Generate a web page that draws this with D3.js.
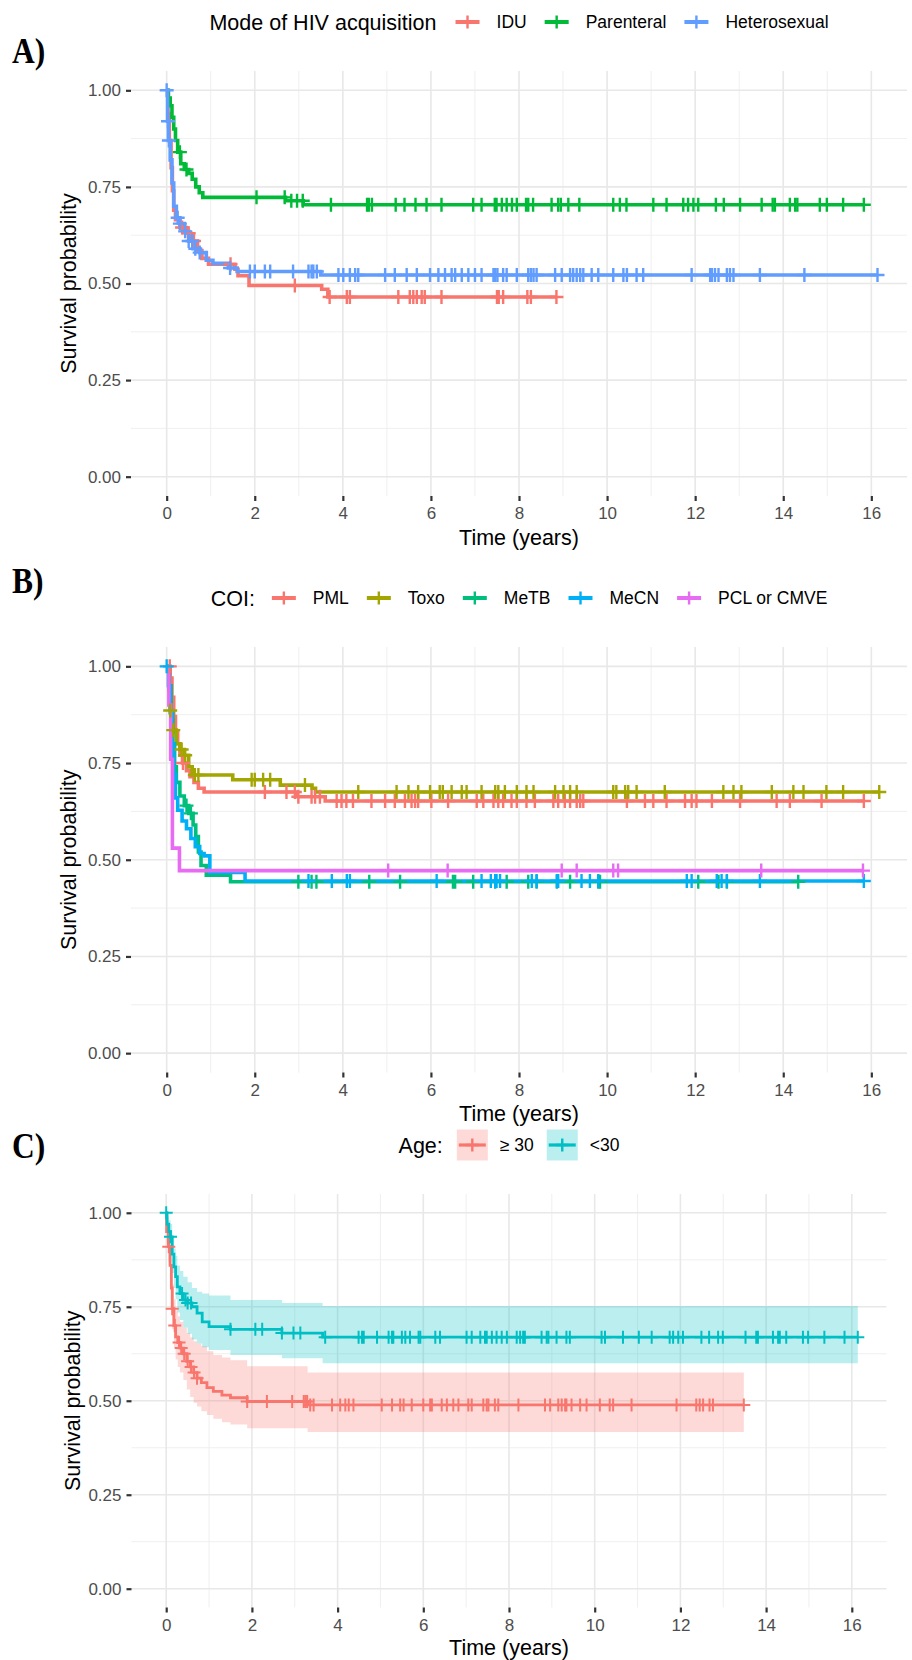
<!DOCTYPE html>
<html>
<head>
<meta charset="utf-8">
<script src="https://cdn.jsdelivr.net/npm/d3@7"></script>
<style>
  body { margin: 0; background: #fff; }
  text { font-family: "Liberation Sans", Arial, sans-serif; }
  text.letter { font-family: "Liberation Serif", "Times New Roman", serif; font-weight: bold; }
</style>
</head>
<body>
<script>
// ---------- Panel A: mode of HIV acquisition ----------
var groupsA = ["IDU", "Parenteral", "Heterosexual"];
var colorsA = ["#F8766D", "#00BA38", "#619CFF"];

var iduTime = [0, 0.03, 0.06, 0.1, 0.13, 0.16, 0.2, 0.3, 0.45, 0.55, 0.7, 0.8, 0.95, 1.55, 1.62, 1.87, 3.52, 3.66];
var iduSurv = [1, 0.94, 0.87, 0.80, 0.74, 0.69, 0.665, 0.645, 0.63, 0.61, 0.585, 0.565, 0.55, 0.537, 0.52, 0.495, 0.485, 0.465];
var iduCensor = [0.35, 0.5, 0.62, 1.45, 2.91, 3.7, 4.09, 4.16, 5.26, 5.52, 5.6, 5.68, 5.79, 5.86, 6.24, 7.5, 7.54, 7.64, 8.19, 8.27, 8.85];

var parTime = [0, 0.04, 0.08, 0.12, 0.16, 0.2, 0.25, 0.32, 0.4, 0.5, 0.58, 0.66, 0.74, 0.82, 2.7, 3.1];
var parSurv = [1, 0.98, 0.96, 0.93, 0.9, 0.87, 0.84, 0.81, 0.795, 0.785, 0.77, 0.75, 0.735, 0.723, 0.714, 0.704];
var parCensor = [0.3, 0.45, 2.04, 2.68, 2.83, 2.96, 3.09, 3.73, 4.55, 4.59, 4.66, 5.2, 5.4, 5.65, 5.9, 6.24, 6.96, 7.15, 7.45, 7.49,
  7.61, 7.72, 7.84, 7.95, 8.16, 8.21, 8.32, 8.74, 8.89, 8.95, 9.12, 9.37, 10.14, 10.29, 10.44, 11.05, 11.35, 11.73, 11.84, 11.96,
  12.07, 12.47, 12.65, 13.02, 13.51, 13.76, 13.81, 14.15, 14.27, 14.32, 14.83, 14.99, 15.36, 15.83];

var hetTime = [0, 0.02, 0.04, 0.08, 0.12, 0.16, 0.22, 0.3, 0.4, 0.5, 0.6, 0.75, 0.9, 1.05, 1.4, 1.6, 3.5];
var hetSurv = [1, 0.92, 0.87, 0.82, 0.76, 0.70, 0.67, 0.655, 0.635, 0.61, 0.59, 0.58, 0.56, 0.552, 0.54, 0.531, 0.522];
var hetCensor = [0, 0.03, 0.05, 0.25, 0.3, 0.42, 0.5, 0.58, 0.65, 0.75, 1.44, 1.89, 2.0, 2.23, 2.35, 2.87, 3.22, 3.29, 3.33, 3.41,
  3.9, 4.01, 4.16, 4.28, 4.35, 4.96, 5.18, 5.45, 5.68, 5.98, 6.17, 6.32, 6.47, 6.55, 6.7, 6.85, 7.0, 7.15, 7.42, 7.46, 7.51, 7.64,
  7.72, 7.95, 8.21, 8.27, 8.33, 8.4, 8.82, 8.97, 9.16, 9.23, 9.31, 9.39, 9.46, 9.65, 9.8, 10.14, 10.37, 10.45, 10.67, 10.82, 11.92,
  12.34, 12.38, 12.45, 12.53, 12.72, 12.79, 12.87, 13.47, 14.48, 16.14];

// ---------- Panel B: COI ----------
var groupsB = ["PML", "Toxo", "MeTB", "MeCN", "PCL or CMVE"];
var colorsB = ["#F8766D", "#A3A500", "#00BF7D", "#00B0F6", "#E76BF3"];

var pmlTime = [0, 0.08, 0.12, 0.16, 0.2, 0.25, 0.3, 0.36, 0.45, 0.53, 0.62, 0.72, 0.85, 2.95, 3.6];
var pmlSurv = [1, 0.97, 0.92, 0.87, 0.83, 0.8, 0.77, 0.75, 0.73, 0.715, 0.7, 0.685, 0.675, 0.663, 0.652];
var pmlCensor = [0.07, 0.37, 2.23, 2.72, 2.91, 2.99, 3.29, 3.37, 3.48, 3.86, 3.97, 4.08, 4.23, 4.65, 4.96, 5.18, 5.41, 5.56, 5.64,
  5.71, 6.01, 6.39, 7.04, 7.19, 7.42, 7.53, 7.64, 7.83, 7.95, 8.17, 8.36, 8.78, 8.89, 9.04, 9.16, 9.31, 9.39, 9.46, 10.45, 10.86,
  11.05, 11.35, 11.77, 11.92, 12.03, 12.38, 13.02, 13.85, 14.15, 14.87, 15.83];

var toxoTime = [0, 0.05, 0.08, 0.12, 0.15, 0.22, 0.3, 0.4, 0.5, 0.58, 1.5, 2.58, 3.3, 3.38];
var toxoSurv = [1, 0.94, 0.886, 0.86, 0.835, 0.8, 0.785, 0.77, 0.74, 0.719, 0.707, 0.693, 0.685, 0.675];
var toxoCensor = [0.08, 0.15, 0.34, 0.42, 0.64, 0.72, 1.93, 2.0, 2.19, 2.35, 3.14, 4.35, 5.22, 5.49, 5.71, 5.98, 6.2, 6.27, 6.47,
  6.7, 6.81, 7.15, 7.46, 7.53, 7.68, 7.95, 8.17, 8.33, 8.82, 9.01, 9.16, 9.31, 10.14, 10.21, 10.41, 10.48, 10.67, 11.31, 12.64,
  12.87, 13.05, 13.74, 14.23, 14.46, 14.98, 15.36, 16.18];

var metbTime = [0, 0.06, 0.1, 0.14, 0.18, 0.22, 0.3, 0.4, 0.5, 0.6, 0.66, 0.72, 0.78, 0.9, 1.45];
var metbSurv = [1, 0.95, 0.88, 0.8, 0.74, 0.7, 0.665, 0.64, 0.62, 0.59, 0.56, 0.52, 0.485, 0.46, 0.443];
var metbCensor = [0.45, 0.55, 2.99, 3.29, 3.4, 4.6, 5.3, 6.5, 6.55, 6.96, 7.46, 7.72, 8.21, 8.4, 8.86, 9.16, 9.8, 9.84, 12.07,
  12.53, 12.72, 14.34];

var mecnTime = [0, 0.04, 0.08, 0.12, 0.16, 0.2, 0.25, 0.35, 0.45, 0.55, 0.65, 0.75, 0.85, 0.98, 1.78];
var mecnSurv = [1, 0.95, 0.88, 0.8, 0.72, 0.66, 0.628, 0.6, 0.58, 0.555, 0.534, 0.516, 0.51, 0.467, 0.445];
var mecnCensor = [0, 3.22, 3.75, 4.09, 4.16, 6.13, 7.15, 7.36, 7.46, 7.49, 7.57, 8.29, 8.4, 8.86, 8.89, 9.42, 9.61, 9.8, 11.81,
  11.92, 12.49, 12.6, 12.72, 13.47, 15.83];

var pclTime = [0, 0.05, 0.09, 0.13, 0.29];
var pclSurv = [1, 0.9, 0.76, 0.53, 0.472];
var pclCensor = [5.03, 6.38, 8.97, 9.31, 10.14, 10.25, 13.5, 15.81];

// ---------- Panel C: age ----------
var groupsC = ["\u2265 30", "<30"];
var colorsC = ["#F8766D", "#00BFC4"];

var oldTime  = [0, 0.01, 0.05, 0.09, 0.12, 0.14, 0.18, 0.22, 0.27, 0.32, 0.4, 0.48, 0.56, 0.64, 0.72, 0.82, 0.95, 1.1, 1.3, 1.5, 1.89, 3.3];
var oldSurv  = [1, 0.95, 0.91, 0.86, 0.8, 0.745, 0.7, 0.67, 0.655, 0.64, 0.625, 0.605, 0.59, 0.575, 0.56, 0.548, 0.535, 0.525, 0.515, 0.508, 0.498, 0.489];
var oldLower = [1, 0.92, 0.87, 0.81, 0.75, 0.69, 0.64, 0.61, 0.59, 0.575, 0.555, 0.53, 0.51, 0.495, 0.485, 0.472, 0.462, 0.452, 0.443, 0.437, 0.427, 0.417];
var oldUpper = [1, 0.98, 0.95, 0.91, 0.86, 0.81, 0.77, 0.74, 0.725, 0.71, 0.695, 0.68, 0.668, 0.658, 0.652, 0.645, 0.632, 0.622, 0.615, 0.608, 0.592, 0.575];
var oldCensor = [0.06, 0.14, 0.2, 0.3, 0.35, 0.42, 0.5, 0.58, 0.65, 0.72, 1.89, 2.35, 2.94, 3.21, 3.25, 3.29, 3.36, 3.44, 3.87, 4.06,
  4.18, 4.26, 4.37, 5.03, 5.27, 5.46, 5.54, 5.73, 6.0, 6.16, 6.2, 6.43, 6.55, 6.7, 6.82, 7.05, 7.13, 7.4, 7.48, 7.52, 7.67, 7.75,
  8.22, 8.84, 8.96, 9.15, 9.23, 9.31, 9.34, 9.46, 9.66, 9.81, 10.12, 10.35, 10.43, 10.86, 11.91, 12.37, 12.45, 12.53, 12.68,
  12.76, 13.48];

var youngTime  = [0, 0.02, 0.06, 0.1, 0.14, 0.18, 0.22, 0.26, 0.32, 0.4, 0.5, 0.6, 0.72, 0.84, 1.0, 1.5, 2.7, 3.65];
var youngSurv  = [1, 0.97, 0.95, 0.936, 0.89, 0.856, 0.83, 0.803, 0.785, 0.768, 0.76, 0.75, 0.733, 0.71, 0.697, 0.69, 0.68, 0.669];
var youngLower = [1, 0.94, 0.91, 0.89, 0.84, 0.8, 0.77, 0.735, 0.715, 0.695, 0.678, 0.663, 0.652, 0.642, 0.635, 0.622, 0.613, 0.6];
var youngUpper = [1, 0.99, 0.98, 0.97, 0.935, 0.905, 0.885, 0.86, 0.845, 0.83, 0.815, 0.8, 0.79, 0.785, 0.78, 0.768, 0.76, 0.752];
var youngCensor = [0, 0.1, 0.37, 0.45, 0.5, 0.58, 1.5, 2.08, 2.24, 2.7, 2.97, 3.13, 3.71, 4.49, 4.57, 4.61, 4.92, 5.19, 5.27, 5.3,
  5.5, 5.58, 5.69, 5.89, 5.93, 6.28, 6.39, 7.01, 7.13, 7.33, 7.44, 7.48, 7.6, 7.71, 7.83, 7.95, 8.18, 8.26, 8.33, 8.37, 8.76,
  8.88, 8.92, 9.11, 9.34, 9.42, 10.16, 10.24, 10.66, 11.03, 11.33, 11.75, 11.83, 11.95, 12.06, 12.49, 12.67, 12.88, 12.99,
  13.52, 13.77, 13.81, 14.16, 14.28, 14.32, 14.47, 14.86, 14.98, 15.36, 15.83, 16.14];

// ---------- axes ----------
var xTicks = [0, 2, 4, 6, 8, 10, 12, 14, 16];
var xMinor = [1, 3, 5, 7, 9, 11, 13, 15];
var yTicks = [0, 0.25, 0.5, 0.75, 1];
var yMinor = [0.125, 0.375, 0.625, 0.875];

var W = 912, H = 1660;
var svg = d3.select("body").append("svg")
  .attr("width", W).attr("height", H)
  .style("display", "block");
svg.append("rect").attr("width", W).attr("height", H).attr("fill", "#fff");

function series(name, color, t, s, cens, lo, hi) {
  var end = d3.max(cens.concat(t));
  return { name: name, color: color, t: t, s: s, cens: cens, lo: lo, hi: hi, end: end };
}

function stepAt(ts, vals, t) {
  var i = d3.bisectRight(ts, t) - 1;
  return vals[Math.max(i, 0)];
}

function plusPath(cx, cy, r) {
  return "M" + (cx - r) + "," + cy + "h" + (2 * r) + "M" + cx + "," + (cy - r) + "v" + (2 * r);
}

function drawPanel(p) {
  var x = d3.scaleLinear().domain([-0.81, 16.81]).range([p.left, p.right]);
  var y = d3.scaleLinear().domain([-0.05, 1.05]).range([p.bottom, p.top]);
  var g = svg.append("g");

  // grid
  g.selectAll(".vminor").data(xMinor).join("line")
    .attr("x1", d => x(d)).attr("x2", d => x(d)).attr("y1", p.top).attr("y2", p.bottom)
    .attr("stroke", "#ededed").attr("stroke-width", 0.9);
  g.selectAll(".hminor").data(yMinor).join("line")
    .attr("x1", p.left).attr("x2", p.right).attr("y1", d => y(d)).attr("y2", d => y(d))
    .attr("stroke", "#ededed").attr("stroke-width", 0.9);
  g.selectAll(".vmajor").data(xTicks).join("line")
    .attr("x1", d => x(d)).attr("x2", d => x(d)).attr("y1", p.top).attr("y2", p.bottom)
    .attr("stroke", "#e8e8e8").attr("stroke-width", 1.6);
  g.selectAll(".hmajor").data(yTicks).join("line")
    .attr("x1", p.left).attr("x2", p.right).attr("y1", d => y(d)).attr("y2", d => y(d))
    .attr("stroke", "#e8e8e8").attr("stroke-width", 1.6);

  // axes
  var ax = g.append("g").attr("transform", "translate(0," + p.bottom + ")")
    .call(d3.axisBottom(x).tickValues(xTicks).tickSize(5).tickPadding(6));
  var ay = g.append("g").attr("transform", "translate(" + p.left + ",0)")
    .call(d3.axisLeft(y).tickValues(yTicks).tickFormat(d3.format(".2f")).tickSize(5).tickPadding(5));
  [ax, ay].forEach(function (a) {
    a.select(".domain").remove();
    a.selectAll(".tick line").attr("stroke", "#333").attr("stroke-width", 2.2);
    a.selectAll(".tick text").attr("fill", "#4d4d4d").attr("font-size", 17);
  });

  g.append("text").attr("x", (p.left + p.right) / 2).attr("y", p.xTitleY).attr("dy", "0.35em")
    .attr("text-anchor", "middle").attr("font-size", 21.5).text("Time (years)");
  g.append("text").attr("transform", "translate(" + p.yTitleX + "," + (p.top + p.bottom) / 2 + ") rotate(-90)")
    .attr("dy", "0.35em").attr("text-anchor", "middle").attr("font-size", 21.5).text("Survival probability");

  // confidence bands
  if (p.band) {
    p.series.forEach(function (d) {
      var pts = d.t.map((t, i) => ({ t: t, lo: d.lo[i], hi: d.hi[i] }));
      pts.push({ t: d.end, lo: d.lo[d.lo.length - 1], hi: d.hi[d.hi.length - 1] });
      g.append("path").datum(pts)
        .attr("d", d3.area().curve(d3.curveStepAfter).x(q => x(q.t)).y0(q => y(q.lo)).y1(q => y(q.hi)))
        .attr("fill", d.color).attr("fill-opacity", 0.27);
    });
  }

  // survival step lines
  var line = d3.line().curve(d3.curveStepAfter).x(q => x(q[0])).y(q => y(q[1]));
  p.series.forEach(function (d) {
    var pts = d.t.map((t, i) => [t, d.s[i]]);
    pts.push([d.end, d.s[d.s.length - 1]]);
    g.append("path").datum(pts).attr("d", line)
      .attr("fill", "none").attr("stroke", d.color).attr("stroke-width", p.lineW);
  });

  // censoring marks
  p.series.forEach(function (d) {
    g.append("g").selectAll("path").data(d.cens).join("path")
      .attr("d", c => plusPath(x(c), y(stepAt(d.t, d.s, c)), p.plusR))
      .attr("fill", "none").attr("stroke", d.color).attr("stroke-width", p.plusW);
  });

  // panel letter
  svg.append("text").attr("class", "letter")
    .attr("transform", "translate(12," + p.letterY + ") scale(0.9,1)")
    .attr("font-size", 35).text(p.letter);

  // legend
  var lg = svg.append("g");
  var title = lg.append("text").attr("x", 0).attr("y", p.legendY).attr("dy", "0.35em")
    .attr("font-size", 21.5).text(p.legendTitle);
  var cx = title.node().getComputedTextLength();
  p.series.forEach(function (d, i) {
    cx += (i === 0) ? p.gapTitle : p.gapItem;
    var kw = p.band ? 31 : 28;
    if (p.band) {
      lg.append("rect").attr("x", cx).attr("y", p.legendY - 15.5).attr("width", kw).attr("height", 31)
        .attr("fill", d.color).attr("fill-opacity", 0.27);
    }
    lg.append("line").attr("x1", cx + 2).attr("x2", cx + kw - 2).attr("y1", p.legendY).attr("y2", p.legendY)
      .attr("stroke", d.color).attr("stroke-width", p.band ? 3.2 : 4);
    lg.append("path").attr("d", plusPath(cx + kw / 2, p.legendY, 6.5))
      .attr("stroke", d.color).attr("stroke-width", 2.4).attr("fill", "none");
    cx += kw + p.gapKey;
    var t = lg.append("text").attr("x", cx).attr("y", p.legendY).attr("dy", "0.35em")
      .attr("font-size", 17.5).text(d.name);
    cx += t.node().getComputedTextLength();
  });
  var mid = (p.left + p.right) / 2;
  lg.attr("transform", "translate(" + (mid - cx / 2) + ",0)");
}

drawPanel({
  left: 131, right: 907, top: 71, bottom: 496,
  xTitleY: 537, yTitleX: 68, letter: "A)", letterY: 63,
  legendY: 22, legendTitle: "Mode of HIV acquisition", gapTitle: 17, gapItem: 16, gapKey: 15,
  lineW: 3.6, plusR: 7, plusW: 2.4, band: false,
  series: [
    series(groupsA[0], colorsA[0], iduTime, iduSurv, iduCensor),
    series(groupsA[1], colorsA[1], parTime, parSurv, parCensor),
    series(groupsA[2], colorsA[2], hetTime, hetSurv, hetCensor)
  ]
});

drawPanel({
  left: 131, right: 907, top: 647, bottom: 1072.5,
  xTitleY: 1113, yTitleX: 68, letter: "B)", letterY: 593,
  legendY: 598, legendTitle: "COI:", gapTitle: 15, gapItem: 16, gapKey: 15,
  lineW: 3.6, plusR: 7, plusW: 2.4, band: false,
  series: [
    series(groupsB[0], colorsB[0], pmlTime, pmlSurv, pmlCensor),
    series(groupsB[1], colorsB[1], toxoTime, toxoSurv, toxoCensor),
    series(groupsB[2], colorsB[2], metbTime, metbSurv, metbCensor),
    series(groupsB[3], colorsB[3], mecnTime, mecnSurv, mecnCensor),
    series(groupsB[4], colorsB[4], pclTime, pclSurv, pclCensor)
  ]
});

drawPanel({
  left: 131.5, right: 886.5, top: 1194, bottom: 1607.5,
  xTitleY: 1647, yTitleX: 72, letter: "C)", letterY: 1158,
  legendY: 1145, legendTitle: "Age:", gapTitle: 14, gapItem: 13, gapKey: 12,
  lineW: 2.8, plusR: 6.5, plusW: 2, band: true,
  series: [
    series(groupsC[0], colorsC[0], oldTime, oldSurv, oldCensor, oldLower, oldUpper),
    series(groupsC[1], colorsC[1], youngTime, youngSurv, youngCensor, youngLower, youngUpper)
  ]
});
</script>
</body>
</html>
